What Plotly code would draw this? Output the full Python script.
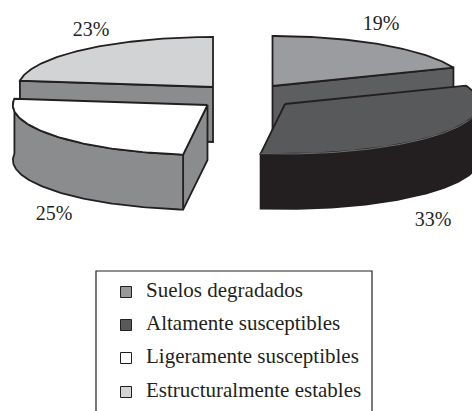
import numpy as np
import plotly.graph_objects as go

# Land-degradation shares, clockwise from twelve o'clock
categories = ["Suelos degradados", "Altamente susceptibles",
              "Ligeramente susceptibles", "Estructuralmente estables"]
values = [19, 33, 25, 23]

# Styling per slice: top surface, side wall
top_colors = ["#9a9c9f", "#58595b", "#ffffff", "#d1d3d4"]
side_colors = ["#5c5e60", "#231f20", "#8a8c8e", "#8a8c8e"]
legend_colors = ["#97999b", "#58595b", "#ffffff", "#d1d3d4"]

# Apex of every exploded slice, and label anchors
apex_x = [272.5, 285, 207.5, 213]
apex_y = [86, 104, 105, 87]
label_x = [381, 433, 54, 91]
label_y = [25, 221, 215, 31]
legend_y = [292, 325, 358, 392]

# Projected pie: ellipse semi-axes and extrusion depth
RX, RY, DEPTH = 194.6, 50, 55
LINE = "#231f20"
SERIF = "Liberation Serif"

cum = np.cumsum([0] + values) / sum(values) * 2 * np.pi
fig = go.Figure()


def arc(i, start, end, dy=0):
    t = np.linspace(start, end, 90)
    return apex_x[i] + RX * np.sin(t), apex_y[i] - RY * np.cos(t) + dy


def poly(xs, ys, fill, line=LINE, width=1.8):
    fig.add_trace(go.Scatter(
        x=list(xs), y=list(ys), mode="lines", fill="toself", fillcolor=fill,
        line=dict(color=line, width=width), hoverinfo="skip", showlegend=False))


def radial_wall(i, angle, fill):
    x0, y0 = apex_x[i], apex_y[i]
    x1, y1 = arc(i, angle, angle)
    x1, y1 = x1[0], y1[0]
    poly([x0, x1, x1, x0, x0],
         [y0, y1, y1 + DEPTH, y0 + DEPTH, y0], fill)


def top(i):
    ax, ay = arc(i, cum[i], cum[i + 1])
    poly([apex_x[i], *ax, apex_x[i]], [apex_y[i], *ay, apex_y[i]], top_colors[i])


def rim(i, start, end):
    ax, ay = arc(i, start, end)
    bx, by = arc(i, end, start, DEPTH)
    poly([*ax, *bx, ax[0]], [*ay, *by, ay[0]], side_colors[i])


# Back slices first: their cut faces are the visible walls
radial_wall(3, cum[3], side_colors[3])
top(3)
radial_wall(0, cum[1], side_colors[0])
top(0)

# Front-right slice
rim(1, np.pi / 2, cum[2])
top(1)
ex, ey = arc(1, np.pi / 2, cum[2])
fig.add_trace(go.Scatter(x=ex, y=ey, mode="lines", hoverinfo="skip", showlegend=False,
                         line=dict(color="#8f8f8f", width=0.7)))

# Front-left slice
radial_wall(2, cum[2], side_colors[2])
rim(2, cum[2], cum[3])
top(2)

# Percentage labels, built from the same values as the slices
fig.add_trace(go.Scatter(
    x=label_x, y=label_y, mode="text", text=[f"{v}%" for v in values],
    textposition="middle center", hoverinfo="skip", showlegend=False,
    textfont=dict(family=SERIF, size=20, color="#231f20")))

# Legend panel runs past the lower edge of the page
fig.add_shape(type="rect", x0=96, x1=372, y0=271, y1=430,
              line=dict(color="#231f20", width=1.2), fillcolor="rgba(0,0,0,0)")
fig.add_trace(go.Scatter(
    x=[126] * 4, y=legend_y, mode="markers",
    marker=dict(symbol="square", size=11, color=legend_colors,
                line=dict(color="#231f20", width=1)),
    hoverinfo="skip", showlegend=False))
fig.add_trace(go.Scatter(
    x=[146] * 4, y=legend_y, mode="text", text=categories,
    textposition="middle right", hoverinfo="skip", showlegend=False,
    textfont=dict(family=SERIF, size=21, color="#231f20")))

fig.update_layout(
    width=472, height=411, margin=dict(l=0, r=0, t=0, b=0),
    paper_bgcolor="white", plot_bgcolor="white", showlegend=False,
    xaxis=dict(range=[0, 472], visible=False, fixedrange=True),
    yaxis=dict(range=[411, 0], visible=False, fixedrange=True))

fig.write_html("out.html", config={"displayModeBar": False})
